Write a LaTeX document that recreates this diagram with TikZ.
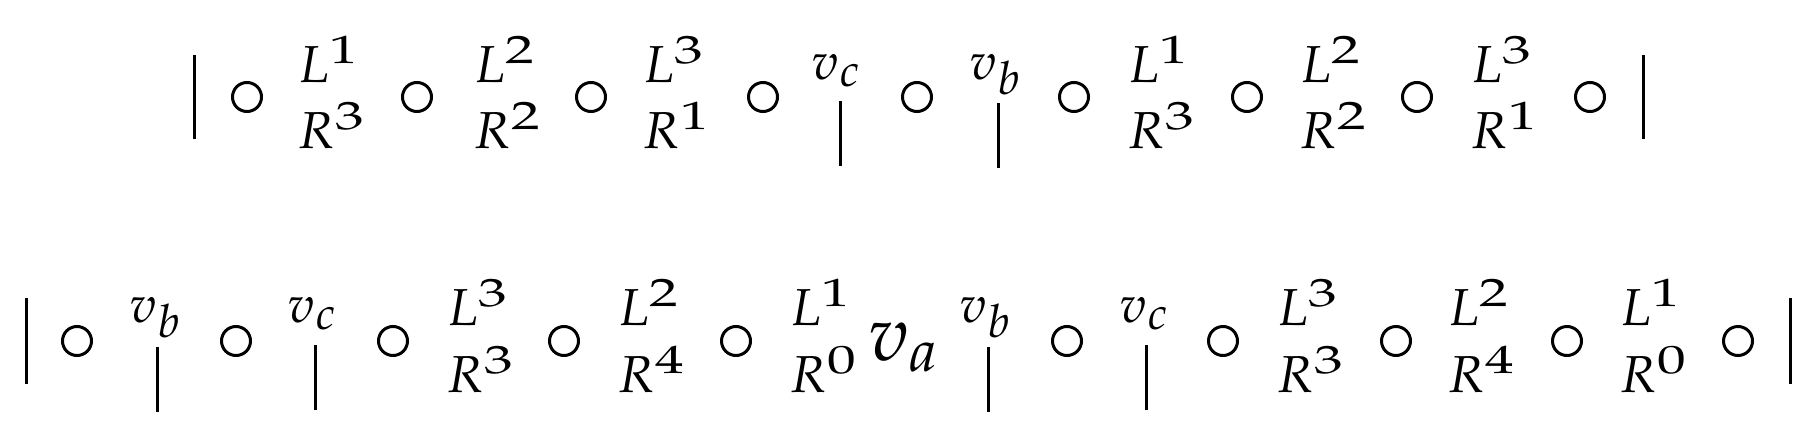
\documentclass[tikz,border=0pt]{standalone}
\usepackage{mathpazo}
\usetikzlibrary{positioning}

\newcommand{\upidx}[1]{^{\scalebox{1.45}[1]{$\scriptstyle #1$}}}
\newcommand{\lowidx}[1]{_{\mbox{\fontsize{46}{50}\selectfont$#1$}}}

\begin{document}
\begin{tikzpicture}[
  x=1pt, y=-1pt,
  font=\fontsize{52}{66}\selectfont,
  sym/.style={inner sep=0pt, anchor=base west},
  big/.style={sym, font=\fontsize{78}{90}\selectfont},
  ring/.style={draw, circle, line width=3pt, minimum size=29pt, inner sep=0pt},
  bar/.style={line width=3pt}
]
\useasboundingbox (0,0) rectangle (1816,434);

% upper row
\draw[bar] (194,55) -- (194,139);
\node[ring] (uo1) at (247,97) {};
\node[sym] (uL1) at (298,82) {$L\upidx{1}$};
\node[sym] (uR1) at (298,148) {$R\upidx{3}$};
\node[ring] (uo2) at (417,97) {};
\node[sym] (uL2) at (474,82) {$L\upidx{2}$};
\node[sym] (uR2) at (474,148) {$R\upidx{2}$};
\node[ring] (uo3) at (591,97) {};
\node[sym] (uL3) at (643,82) {$L\upidx{3}$};
\node[sym] (uR3) at (643,148) {$R\upidx{1}$};
\node[ring] (uo4) at (763,97) {};
\node[sym] (uvc) at (812,79) {$v\lowidx{c}$};
\draw[bar] (840,101) -- (840,166);
\node[ring] (uo5) at (917,97) {};
\node[sym] (uvb) at (970,79) {$v\lowidx{b}$};
\draw[bar] (998,103) -- (998,168);
\node[ring] (uo6) at (1074,97) {};
\node[sym] (uL4) at (1128,82) {$L\upidx{1}$};
\node[sym] (uR4) at (1128,148) {$R\upidx{3}$};
\node[ring] (uo7) at (1247,97) {};
\node[sym] (uL5) at (1300,82) {$L\upidx{2}$};
\node[sym] (uR5) at (1300,148) {$R\upidx{2}$};
\node[ring] (uo8) at (1417,97) {};
\node[sym] (uL6) at (1471,82) {$L\upidx{3}$};
\node[sym] (uR6) at (1471,148) {$R\upidx{1}$};
\node[ring] (uo9) at (1590,97) {};
\draw[bar] (1643,55) -- (1643,139);

% lower row
\draw[bar] (26,298) -- (26,384);
\node[ring] (do1) at (77,341) {};
\node[sym] (dvb1) at (130,322) {$v\lowidx{b}$};
\draw[bar] (157,347) -- (157,412);
\node[ring] (do2) at (236,341) {};
\node[sym] (dvc1) at (288,322) {$v\lowidx{c}$};
\draw[bar] (315,345) -- (315,410);
\node[ring] (do3) at (393,341) {};
\node[sym] (dL1) at (447,325) {$L\upidx{3}$};
\node[sym] (dR1) at (447,392) {$R\upidx{3}$};
\node[ring] (do4) at (564,341) {};
\node[sym] (dL2) at (618,325) {$L\upidx{2}$};
\node[sym] (dR2) at (618,392) {$R\upidx{4}$};
\node[ring] (do5) at (736,341) {};
\node[sym] (dL3) at (790,325) {$L\upidx{1}$};
\node[sym] (dR3) at (790,392) {$R\upidx{0}$};
\node[big] (dva) at (868,360) {$v_{a}$};
\node[sym] (dvb2) at (960,322) {$v\lowidx{b}$};
\draw[bar] (988,347) -- (988,412);
\node[ring] (do6) at (1067,341) {};
\node[sym] (dvc2) at (1120,322) {$v\lowidx{c}$};
\draw[bar] (1146,345) -- (1146,410);
\node[ring] (do7) at (1223,341) {};
\node[sym] (dL4) at (1277,325) {$L\upidx{3}$};
\node[sym] (dR4) at (1277,392) {$R\upidx{3}$};
\node[ring] (do8) at (1396,341) {};
\node[sym] (dL5) at (1448,325) {$L\upidx{2}$};
\node[sym] (dR5) at (1448,392) {$R\upidx{4}$};
\node[ring] (do9) at (1567,341) {};
\node[sym] (dL6) at (1620,325) {$L\upidx{1}$};
\node[sym] (dR6) at (1620,392) {$R\upidx{0}$};
\node[ring] (do10) at (1738,341) {};
\draw[bar] (1790,298) -- (1790,384);

\end{tikzpicture}
\end{document}
